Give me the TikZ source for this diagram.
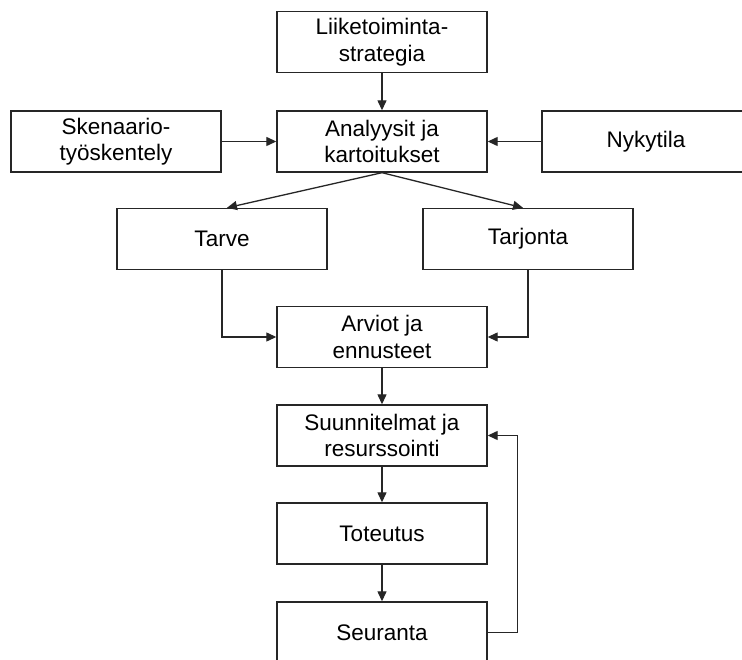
\documentclass[tikz,border=0pt]{standalone}
\usepackage{fontspec}
\setmainfont{Liberation Sans}
\usetikzlibrary{arrows.meta}
\begin{document}
\begin{tikzpicture}[x=1pt,y=-1pt,
  stage/.style={draw=black!85, line width=1.4pt, fill=white,
    minimum width=210pt, minimum height=61pt, inner sep=2pt,
    align=center, font=\fontsize{22.5}{26.5}\selectfont},
  flow/.style={draw=black!85, line width=1.3pt,
    -{Triangle[length=10pt,width=9pt]}}]
\useasboundingbox (0,0) rectangle (742,660);
\clip (0,0) rectangle (742,660);
\fill[white] (0,0) rectangle (742,660);

% stages
\node[stage] (liike) at (382,42) {Liiketoiminta-\\strategia};
\node[stage] (analyysit) at (382,141.5) {Analyysit ja\\kartoitukset};
\node[stage] (skenaario) at (116,141.5) {Skenaario-\\työskentely};
\node[stage, minimum width=208pt] (nykytila) at (646,141.5) {Nykytila};
\node[stage] (tarve) at (222,239) {Tarve};
\node[stage] (tarjonta) at (528,239) {Tarjonta};
\node[stage] (arviot) at (382,337) {Arviot ja\\ennusteet};
\node[stage] (suunn) at (382,435.5) {Suunnitelmat ja\\resurssointi};
\node[stage] (toteutus) at (382,533.5) {Toteutus};
\node[stage] (seuranta) at (382,632.5) {Seuranta};

% connectors
\draw[flow] (liike) -- (analyysit);
\draw[flow] (skenaario) -- (analyysit);
\draw[flow] (nykytila) -- (analyysit);
\draw[flow] (analyysit.south) -- ([xshift=5pt]tarve.north);
\draw[flow] (analyysit.south) -- ([xshift=-5pt]tarjonta.north);
\draw[flow] (tarve.south) |- (arviot.west);
\draw[flow] (tarjonta.south) |- (arviot.east);
\draw[flow] (arviot) -- (suunn);
\draw[flow] (suunn) -- (toteutus);
\draw[flow] (toteutus) -- (seuranta);
\draw[flow] (seuranta.east) -- ++(30,0) |- (suunn.east);
\end{tikzpicture}
\end{document}
